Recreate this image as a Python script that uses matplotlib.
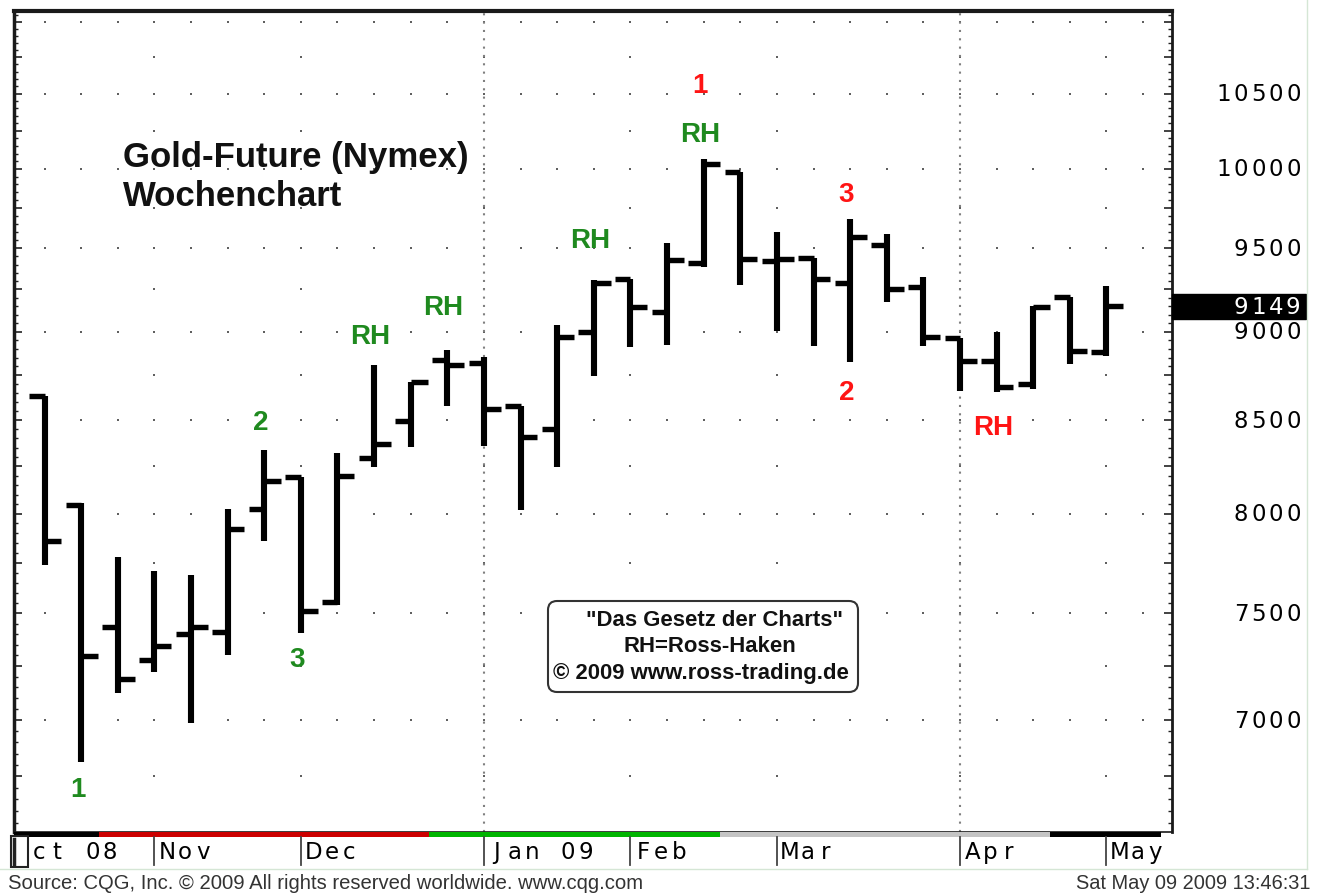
import numpy as np
import matplotlib
matplotlib.use("Agg")
import matplotlib.pyplot as plt
from matplotlib.ticker import FixedLocator, NullFormatter
from matplotlib.patches import Rectangle, FancyBboxPatch
from matplotlib import font_manager

# Gold-Future (Nymex), Wochenbalken Okt 08 - Mai 09 (Kurs x10)
opens = [8635, 8047, 7436, 7278, 7402, 7410, 8024, 8191, 7554, 8292,
         8497, 8837, 8820, 8580, 8451, 8997, 9313, 9114, 9409, 9982,
         9424, 9438, 9290, 9520, 9263, 8962, 8833, 8700, 9203, 8881]
highs = [8635, 8056, 7781, 7708, 7690, 8027, 8338, 8191, 8320, 8810,
         8713, 8894, 8856, 8580, 9039, 9306, 9313, 9530, 10065, 9982,
         9602, 9438, 9681, 9588, 9327, 8962, 9000, 9153, 9203, 9268]
lows = [7739, 6813, 7124, 7222, 6986, 7301, 7862, 7407, 7541, 8244,
        8355, 8577, 8360, 8020, 8244, 8744, 8910, 8924, 9383, 9277,
        9006, 8915, 8828, 9173, 8918, 8664, 8654, 8673, 8814, 8858]
closes = [7862, 7298, 7189, 7345, 7433, 7921, 8173, 7513, 8199, 8369,
          8713, 8808, 8561, 8405, 8971, 9289, 9143, 9428, 10032, 9433,
          9433, 9313, 9568, 9253, 8971, 8833, 8683, 9147, 8890, 9149]
last_price = 9149

month_labels = ["ct 08", "Nov", "Dec", "Jan 09", "Feb", "Mar", "Apr", "May"]
month_start = [-0.45, 3, 7, 12, 16, 20, 25, 29]
quarter_start = [12, 25]

price_labels = [7000, 7500, 8000, 8500, 9000, 9500, 10000, 10500]

# Farbband unter dem Chart (Trendindikator)
strip_edges = [-0.83, 1.5, 10.5, 18.45, 27.45, 30.5]
strip_colors = ["black", "#cc0000", "#00b400", "#c4c4c4", "black"]

GREEN = "#1f8a1f"
RED = "#ff1414"
annotations = [
    (0.9, 6695, "1", GREEN), (5.9, 8490, "2", GREEN), (6.9, 7282, "3", GREEN),
    (8.9, 8977, "RH", GREEN), (10.9, 9143, "RH", GREEN), (14.9, 9552, "RH", GREEN),
    (17.9, 10229, "RH", GREEN), (17.9, 10559, "1", RED), (21.9, 9839, "3", RED),
    (21.9, 8655, "2", RED), (25.9, 8460, "RH", RED),
]

W, H = 1322, 895
fig = plt.figure(figsize=(W / 100, H / 100), dpi=100, facecolor="white")

# Hauptachse in Pixelgrenzen
left, right, top, bottom = 14, 1172, 12, 833
ax = fig.add_axes([left / W, 1 - bottom / H, (right - left) / W, (bottom - top) / H])
ax.set_yscale("log")
ax.set_xlim(-0.833, 30.79)
ax.set_ylim(6511, 11076)

# Overlay in Pixelkoordinaten (y nach unten)
ov = fig.add_axes([0, 0, 1, 1], zorder=5)
ov.set_xlim(0, W)
ov.set_ylim(H, 0)
ov.axis("off")
ov.patch.set_visible(False)

names = {f.name for f in font_manager.fontManager.ttflist}
SANS = "Liberation Sans"
NARROW = "Liberation Sans Narrow" if "Liberation Sans Narrow" in names else SANS
AXFONT = "DejaVu Sans"

renderer = fig.canvas.get_renderer()


def to_px(x, y):
    dx, dy = ax.transData.transform((x, y))
    return dx, H - dy


def spaced(x, y, s, pitch, anchor="left", **kw):
    # CQG-Schrift: feste Zeichenbreite
    if anchor == "right":
        x = x - pitch * len(s)
    for i, ch in enumerate(s):
        ov.text(x + (i + 0.5) * pitch, y, ch, ha="center", va="center", **kw)


def fit_text(x, y, s, width, ha="left", **kw):
    t = ov.text(x, y, s, ha=ha, va="center", fontsize=10, **kw)
    w = t.get_window_extent(renderer).width
    t.set_fontsize(10 * width / w)
    return t


# Punktraster
idx_all = np.arange(0, 31)
for lvl in range(7000, 11001, 500):
    ax.scatter(idx_all, np.full(idx_all.size, lvl), s=3, marker="s",
               color="#606060", linewidths=0, zorder=1)
for lvl in range(6750, 10751, 500):
    ax.scatter(month_start[1:], np.full(len(month_start) - 1, lvl), s=3,
               marker="s", color="#606060", linewidths=0, zorder=1)
for q in quarter_start:
    ax.axvline(q, color="#808080", lw=1.5, ls=(0, (1, 3)), zorder=1)

# OHLC-Balken
x = np.arange(len(opens))
ax.vlines(x, lows, highs, color="black", lw=4.4, capstyle="butt", zorder=3)
ax.hlines(opens, x - 0.42, x, color="black", lw=3.9, capstyle="butt", zorder=3)
ax.hlines(closes, x, x + 0.46, color="black", lw=3.9, capstyle="butt", zorder=3)

# Achsen / Ticks
ax.set_xticks([])
ax.yaxis.set_major_locator(FixedLocator(np.arange(6500, 11001, 250)))
ax.yaxis.set_minor_locator(FixedLocator(np.arange(6500, 11051, 50)))
ax.yaxis.set_major_formatter(NullFormatter())
ax.yaxis.set_minor_formatter(NullFormatter())
ax.tick_params(which="both", direction="in", left=True, right=True,
               labelleft=False, labelright=False, color="#222222")
ax.tick_params(which="major", length=6, width=1.2)
ax.tick_params(which="minor", length=3, width=1)
ax.spines["top"].set_linewidth(3)
ax.spines["left"].set_linewidth(2.5)
ax.spines["right"].set_linewidth(2)
ax.spines["bottom"].set_linewidth(1.2)
for sp in ax.spines.values():
    sp.set_color("#1a1a1a")

# Farbband
tr = ax.get_xaxis_transform()
for x0, x1, c in zip(strip_edges[:-1], strip_edges[1:], strip_colors):
    ax.fill_between([x0, x1], -0.0055, -0.0005, transform=tr, color=c,
                    lw=0, clip_on=False, zorder=4)

# Annotationen
for xi, yi, s, c in annotations:
    ax.text(xi, yi, s, color=c, ha="center", va="center", fontsize=20,
            fontweight="bold", family=SANS, zorder=5)

# Titel
t1 = fit_text(123, 157, "Gold-Future (Nymex)", 346, family=SANS,
              fontweight="bold", color="#111111")
ov.text(123, 196, "Wochenchart", ha="left", va="center",
        fontsize=t1.get_fontsize(), family=SANS, fontweight="bold",
        color="#111111")

# Infobox
ov.add_patch(FancyBboxPatch((548, 602), 310, 91,
                            boxstyle="round,pad=0,rounding_size=9",
                            fc="white", ec="#333333", lw=1.5, zorder=2))
t3 = fit_text(701, 674, "\u00a9 2009 www.ross-trading.de", 297, ha="center",
              family=NARROW, fontweight="bold", color="#111111", zorder=3)
fs = t3.get_fontsize()
ov.text(714, 621, "\"Das Gesetz der Charts\"", ha="center", va="center",
        fontsize=fs, family=NARROW, fontweight="bold", color="#111111", zorder=3)
ov.text(710, 647, "RH=Ross-Haken", ha="center", va="center",
        fontsize=fs, family=NARROW, fontweight="bold", color="#111111", zorder=3)

# rechte Preisskala
for p in price_labels:
    _, yp = to_px(0, p)
    spaced(1302, yp, str(p), 17.4, anchor="right", fontsize=16.5,
           family=AXFONT, color="black")
_, yl = to_px(0, last_price)
ov.add_patch(Rectangle((1172, yl - 12.5), 134, 25, color="black", zorder=2))
spaced(1302, yl, str(last_price), 17.4, anchor="right", fontsize=16.5,
       family=AXFONT, color="white", zorder=3)

# Monatsachse
for lab, m in zip(month_labels, month_start):
    xm, _ = to_px(m, 0)
    if m < 0:
        ov.add_patch(Rectangle((11, 837), 17, 31, fc="white", ec="#222222", lw=1.5))
        ov.plot([14, 14], [840, 865], color="#222222", lw=2.5)
        spaced(30, 853, lab, 17.8, fontsize=16.5, family=AXFONT, color="black")
    else:
        ov.plot([xm, xm], [838, 866], color="#444444", lw=1.3)
        spaced(xm + 4, 853, lab, 17.8, fontsize=16.5, family=AXFONT, color="black")

# Rahmen
ov.plot([1307, 1307], [0, 870], color="#d5e6d5", lw=1)
ov.plot([0, 1307], [870, 870], color="#d5e6d5", lw=1)

# Fusszeile
fit_text(8, 884, "Source: CQG, Inc. \u00a9 2009 All rights reserved worldwide. www.cqg.com",
         637, family=NARROW, color="#333333")
fit_text(1310, 884, "Sat May 09 2009 13:46:31", 235, ha="right",
         family=NARROW, color="#333333")

fig.savefig("out.png", dpi=100, facecolor="white")
